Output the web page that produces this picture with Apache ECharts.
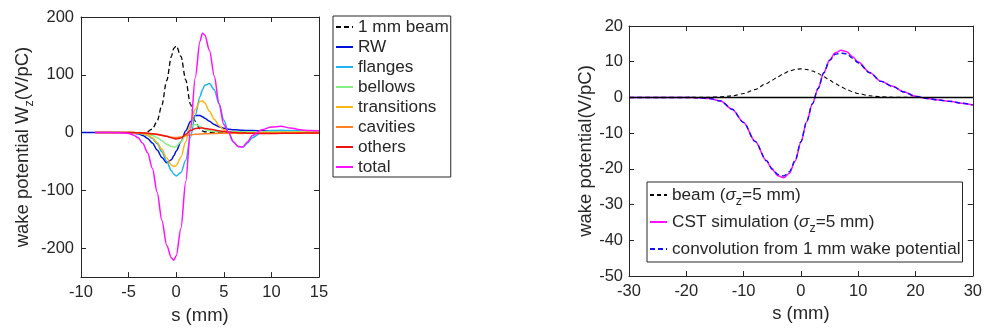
<!DOCTYPE html>
<html>
<head>
<meta charset="utf-8">
<script src="https://cdn.jsdelivr.net/npm/echarts@6/dist/echarts.min.js"></script>
<style>
  html, body { margin: 0; padding: 0; background: #ffffff; }
  #chart { width: 985px; height: 330px; }
</style>
</head>
<body>
<div id="chart"></div>
<script>
// ---- Left panel: 1 mm bunch wake potential by component ----
const s1 = [-10, -9, -8.5, -8, -7, -6, -5, -4.5, -4, -3.5, -3, -2.5, -2, -1.5, -1, -0.5, -0.25,
            0, 0.5, 1, 1.5, 2, 2.5, 2.75, 3, 3.5, 4, 4.5, 5, 5.5, 6, 6.5, 7, 7.5, 8,
            9, 10, 11, 12, 13, 14, 15];

const beam1 = [null, null, null, null, null, null, null, null, null, null, 1, 6, 20, 48, 90, 132, 146,
               150, 132, 91, 49, 20, 6, 3, 1.5, 0.5, 0, 0, 0, 0, 0, 0, 0, 0, 0,
               0, 0, 0, 0, 0, 0, 0];
const rw = [0, 0, 0, 0, 0, 0, -0.3, -0.8, -2, -5, -10, -18, -30, -43, -52, -47, -40,
            -32, -16, 3, 19, 29.5, 29.5, 27.5, 25, 19.5, 14, 10, 7.5, 6, 5, 4.5, 4, 3.7, 3.5,
            3, 2.7, 2.5, 2.3, 2.1, 2, 1.9];
const flanges = [null, null, 0, 0, 0, 0, 0, -0.3, -1, -2.5, -5, -10, -19, -33, -50, -66, -72,
                 -75, -69, -48, -8, 30, 62, 74, 82, 85, 74, 50, 22, 0, -16, -24, -25, -18, -9,
                 1, 3.5, 4, 3.5, 3, 2.5, 2];
const bellows = [null, null, 0, 0, 0, 0, 0, 0, -0.5, -1, -2.5, -5, -9, -14, -20, -24, -25,
                 -24, -16, -4, 9, 14, 11, 8.5, 6, 3, 2, 1.5, 1.5, 1.5, 1.5, 1.5, 1.5, 1.5, 1.5,
                 1.5, 1.5, 1.5, 1.5, 1.5, 1.5, 1.5];
const transitions = [null, null, 0, 0, 0, 0, 0, -0.3, -0.8, -2, -4.5, -9, -17, -29, -44, -56, -59,
                     -57, -42, -16, 13, 40, 54, 55, 51, 37, 23, 12, 5, 1, -1, -1.5, -1.5, -1, -0.5,
                     0, 0, 0.5, 0.5, 0.5, 0.5, 0.5];
const cavities = [null, null, 0, 0, 0, 0, 0, 0, -0.3, -0.8, -1.5, -2.5, -3.5, -5, -6.5, -8, -8.5,
                  -8.5, -7.5, -5.5, -4, -3, -2.5, -2.3, -2, -1.8, -1.5, -1.3, -1.2, -1, -1, -1, -1, -1, -1,
                  -0.8, -0.7, -0.6, -0.5, -0.5, -0.5, -0.5];
const others = [null, null, 0, 0, 0, 0, 0, 0, -0.3, -0.6, -1, -2, -3, -4.5, -6.5, -9, -10,
                -11, -9.5, -3, 3.5, 7, 8, 7.8, 7.3, 6, 4.5, 3, 1.8, 1, 0.3, -0.3, -0.8, -1, -1.2,
                -1.5, -1.5, -1.3, -1.2, -1, -0.8, -0.7];
const total = [null, null, 0, 0, 0, -0.3, -1.5, -4, -9, -19, -35, -62, -103, -152, -195, -217, -221,
               -213, -165, -85, 5, 95, 158, 172, 169, 142, 98, 50, 14, 0, -16, -24, -25, -16, -5,
               5, 9.5, 11, 8, 5, 3.5, 3];

const names1 = ['1 mm beam', 'RW', 'flanges', 'bellows', 'transitions', 'cavities', 'others', 'total'];
const colors1 = ['#000000', '#0010D8', '#1EB4F0', '#86EE86', '#FFB414', '#FF8020', '#F01010', '#FF10FF'];
const values1 = [beam1, rw, flanges, bellows, transitions, cavities, others, total];
const xTicks1 = { min: -10, max: 15, interval: 5 };
const yTicks1 = [-200, -100, 0, 100, 200];

// ---- Right panel: 5 mm bunch, simulation vs. convolution ----
const s2 = [-30, -25, -20, -18, -16, -14, -12, -10, -8, -6, -5, -4, -3, -2, -1, 0, 1, 2, 3, 4, 5,
            6, 7, 8, 9, 10, 12, 14, 16, 18, 20, 22, 24, 26, 28, 30];
const beam2 = [0, 0, 0, 0.02, 0.06, 0.16, 0.45, 1.08, 2.22, 3.89, 4.85, 5.81, 6.68, 7.38, 7.84, 8,
               7.84, 7.38, 6.68, 5.81, 4.85, 3.89, 2.98, 2.22, 1.58, 1.08, 0.45, 0.16, 0.06, 0.02,
               0, 0, 0, 0, 0, 0];
const cst = [0, 0, 0, -0.1, -0.3, -1.0, -3.3, -7, -12.3, -17.8, -20.2, -21.9, -22.5, -21.2, -17.8, -12.5,
             -6.8, -1.8, 2.5, 7, 10.5, 12.5, 13.2, 12.8, 11.4, 9.9, 7, 4.5, 3.1, 1.5, 0.3, -0.3,
             -0.7, -1.1, -1.6, -2.1];
const conv = [0, 0, 0, -0.1, -0.3, -1.0, -3.3, -7, -12.3, -17.7, -20.0, -21.6, -22.0, -20.8, -17.6, -12.4,
              -6.8, -1.8, 2.5, 6.9, 10.3, 12.1, 12.4, 12.2, 11.0, 9.7, 6.9, 4.5, 3.1, 1.5, 0.3, -0.3,
              -0.7, -1.1, -1.6, -2.1];
const names2 = ['beam', 'CST simulation', 'convolution from 1 mm wake potential'];
const xTicks2 = { min: -30, max: 30, interval: 10 };
const yTicks2 = { min: -50, max: 20, interval: 10 };

// ---- shared styling ----
const FONT = '"Liberation Sans", Arial, Helvetica, sans-serif';
const INK = '#262626';
const TICK = 16.5, LEG = 17.2, NAME = 18.5;

function pairs(xs, ys) {
  const out = [];
  xs.forEach((x, i) => { if (ys[i] !== null && ys[i] !== undefined) out.push([x, ys[i]]); });
  return out;
}

function boxAxis(gridIndex, pos, range, extra) {
  return Object.assign({
    type: 'value', gridIndex: gridIndex, position: pos,
    min: range.min, max: range.max, interval: range.interval,
    axisLine: { show: true, onZero: false, lineStyle: { color: INK, width: 1 } },
    axisTick: { show: true, inside: true, length: 5, lineStyle: { color: INK, width: 1 } },
    axisLabel: { show: false },
    splitLine: { show: false }
  }, extra || {});
}

const labelStyle = { color: INK, fontFamily: FONT, fontSize: TICK };
const nameStyle = { color: INK, fontFamily: FONT, fontSize: NAME };

const xAxes = [
  boxAxis(0, 'bottom', xTicks1, {
    axisLabel: Object.assign({ show: true, margin: 7 }, labelStyle),
    name: 's (mm)', nameLocation: 'middle', nameGap: 28, nameTextStyle: nameStyle
  }),
  boxAxis(0, 'top', xTicks1),
  boxAxis(1, 'bottom', xTicks2, {
    axisLabel: Object.assign({ show: true, margin: 7 }, labelStyle),
    name: 's (mm)', nameLocation: 'middle', nameGap: 28, nameTextStyle: nameStyle
  }),
  boxAxis(1, 'top', xTicks2)
];

const yRange1 = { min: -250, max: 200, interval: 50 };
const yAxes = [
  boxAxis(0, 'left', yRange1, {
    axisTick: { show: true, inside: true, length: 5, customValues: yTicks1, lineStyle: { color: INK } },
    axisLabel: Object.assign({ show: true, margin: 7, customValues: yTicks1 }, labelStyle),
    name: '{t|wake potential W}{s|z}{t|(V/pC)}', nameLocation: 'middle', nameGap: 45, nameRotate: 90,
    nameTextStyle: Object.assign({}, nameStyle, {
      rich: {
        t: { fontFamily: FONT, fontSize: NAME, color: INK, lineHeight: 26 },
        s: { fontFamily: FONT, fontSize: 12.5, color: INK, lineHeight: 12, verticalAlign: 'bottom' }
      }
    })
  }),
  boxAxis(0, 'right', yRange1, {
    axisTick: { show: true, inside: true, length: 5, customValues: yTicks1, lineStyle: { color: INK } }
  }),
  boxAxis(1, 'left', yTicks2, {
    axisLabel: Object.assign({ show: true, margin: 6 }, labelStyle),
    name: 'wake potential(V/pC)', nameLocation: 'middle', nameGap: 30, nameRotate: 90,
    nameTextStyle: nameStyle
  }),
  boxAxis(1, 'right', yTicks2)
];

const series = [];
names1.forEach((nm, i) => {
  series.push({
    name: nm, type: 'line', xAxisIndex: 0, yAxisIndex: 0,
    data: pairs(s1, values1[i]), symbol: 'none', showSymbol: false,
    smooth: 0.3, smoothMonotone: 'x', color: colors1[i],
    lineStyle: { color: colors1[i], width: i === 0 ? 1.3 : 1.5, type: i === 0 ? [5, 3] : 'solid' },
    z: 2 + i
  });
});
series.push({
  name: names2[0], type: 'line', xAxisIndex: 2, yAxisIndex: 2,
  data: pairs(s2, beam2), symbol: 'none', smooth: 0.3, smoothMonotone: 'x', color: '#000000',
  lineStyle: { color: '#000000', width: 1.1, type: [4, 3] }, z: 2,
  markLine: {
    silent: true, symbol: 'none', label: { show: false },
    lineStyle: { color: '#000000', width: 1.3, type: 'solid' },
    data: [{ yAxis: 0 }]
  }
});
series.push({
  name: names2[1], type: 'line', xAxisIndex: 2, yAxisIndex: 2,
  data: pairs(s2, cst), symbol: 'none', smooth: 0.3, smoothMonotone: 'x', color: '#FF10FF',
  lineStyle: { color: '#FF10FF', width: 1.5 }, z: 3
});
series.push({
  name: names2[2], type: 'line', xAxisIndex: 2, yAxisIndex: 2,
  data: pairs(s2, conv), symbol: 'none', smooth: 0.3, smoothMonotone: 'x', color: '#1010FF',
  lineStyle: { color: '#1010FF', width: 1.4, type: [5, 3] }, z: 4
});

const richLegend = {
  t: { fontFamily: FONT, fontSize: LEG, color: INK, lineHeight: 26 },
  g: { fontFamily: FONT, fontSize: LEG, color: INK, lineHeight: 26, fontStyle: 'italic' },
  s: { fontFamily: FONT, fontSize: 12.5, color: INK, lineHeight: 12, verticalAlign: 'bottom' }
};
const legendText2 = {
  'beam': '{t|beam (}{g|σ}{s|z}{t|=5 mm)}',
  'CST simulation': '{t|CST simulation (}{g|σ}{s|z}{t|=5 mm)}',
  'convolution from 1 mm wake potential': '{t|convolution from 1 mm wake potential}'
};

// legend keys show only the line sample, no marker
const hiddenMarker = { opacity: 0, borderWidth: 0 };

const option = {
  animation: false,
  backgroundColor: '#ffffff',
  grid: [
    { left: 81, top: 17, width: 238, height: 267, containLabel: false },
    { left: 629, top: 26, width: 346, height: 250, containLabel: false }
  ],
  xAxis: xAxes,
  yAxis: yAxes,
  legend: [
    {
      data: names1, orient: 'vertical', left: 333, top: 16,
      itemWidth: 17, itemHeight: 12, itemGap: 0, padding: [1, 2, 0, 2],
      selectedMode: false, backgroundColor: '#ffffff',
      borderColor: INK, borderWidth: 1, itemStyle: hiddenMarker,
      textStyle: { fontFamily: FONT, fontSize: LEG, color: INK, lineHeight: 20 }
    },
    {
      data: names2, orient: 'vertical', left: 647, top: 182,
      itemWidth: 17, itemHeight: 12, itemGap: 1, padding: [0, 2, 0, 2],
      selectedMode: false, backgroundColor: '#ffffff',
      borderColor: INK, borderWidth: 1, itemStyle: hiddenMarker,
      formatter: (nm) => legendText2[nm],
      textStyle: { fontFamily: FONT, fontSize: LEG, color: INK, lineHeight: 26, rich: richLegend }
    }
  ],
  series: series
};

const chart = echarts.init(document.getElementById('chart'), null, { renderer: 'canvas' });
chart.setOption(option);
</script>
</body>
</html>
